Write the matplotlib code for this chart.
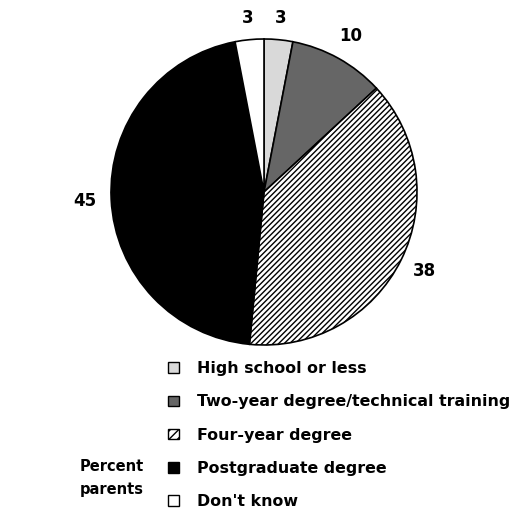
import matplotlib
matplotlib.use("Agg")
import matplotlib.pyplot as plt
import matplotlib.patches as mpatches
import numpy as np

plt.rcParams['hatch.linewidth'] = 1.0

categories = ["High school or less", "Two-year degree/technical training",
              "Four-year degree", "Postgraduate degree", "Don't know"]
values = [3, 10, 38, 45, 3]
colors = ["#d9d9d9", "#666666", "white", "black", "white"]
hatches = [None, None, "//////", None, None]

fig = plt.figure(figsize=(5.13, 5.08), dpi=100)
ax = fig.add_axes([(264 - 153) / 513, 1 - (192 + 153) / 508, 306 / 513, 306 / 508])

wedges, _ = ax.pie(values, colors=colors, startangle=90, counterclock=False,
                   wedgeprops=dict(edgecolor="black", linewidth=1.2))
for w, h in zip(wedges, hatches):
    if h:
        w.set_hatch(h)
ax.set_aspect("equal")
ax.set_xlim(-1, 1)
ax.set_ylim(-1, 1)
ax.axis("off")

font = dict(family="DejaVu Sans", weight="bold")
dist = [1.14, 1.17, 1.17, 1.17, 1.14]
for w, v, d in zip(wedges, values, dist):
    ang = np.deg2rad((w.theta1 + w.theta2) / 2)
    ax.text(d * np.cos(ang), d * np.sin(ang), str(v), ha="center", va="center",
            fontsize=12, clip_on=False, **font)

handles = []
for c, h in zip(colors, hatches):
    p = mpatches.Patch(facecolor=c, edgecolor="black", hatch="////" if h else None, linewidth=1)
    handles.append(p)

leg = fig.legend(handles, categories, loc="upper left", bbox_to_anchor=(154 / 513, 1 - 347 / 508),
                 frameon=False, handlelength=0.65, handleheight=0.65, handletextpad=1.15,
                 labelspacing=1.15, prop=dict(family="DejaVu Sans", weight="bold", size=11.4))

fig.text(80 / 513, 1 - 478 / 508, "Percent\nparents", ha="left", va="center",
         fontsize=10.5, linespacing=1.6, **font)

fig.savefig("out.png", dpi=100)
